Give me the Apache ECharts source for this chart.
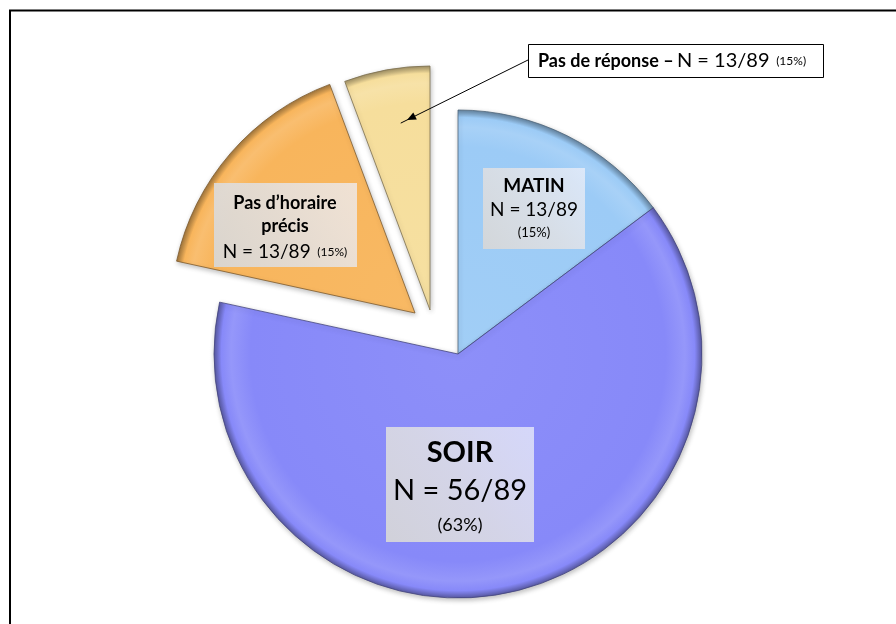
<!DOCTYPE html>
<html>
<head>
<meta charset="utf-8">
<script src="https://cdn.jsdelivr.net/npm/echarts@6/dist/echarts.min.js"></script>
<style>
  html, body { margin: 0; padding: 0; background: #fff; }
  #chart { width: 896px; height: 624px; }
</style>
</head>
<body>
<div id="chart"></div>
<script>
// donnees (angles des parts)
var categories = ['MATIN', 'SOIR', 'Pas d\u2019horaire précis', 'Pas de réponse'];
var values = [13, 56, 14, 5];
var titleLines = [['MATIN'], ['SOIR'], ['Pas d\u2019horaire', 'précis'], ['Pas de réponse \u2013']];
var countLabels = ['N = 13/89', 'N = 56/89', 'N = 13/89', 'N = 13/89'];
var percentLabels = ['(15%)', '(63%)', '(15%)', '(15%)'];
var baseColors = ['#9ccbf6', '#8789f9', '#f8b55c', '#f6de9c'];

var FONT = 'Lato, "Noto Sans", sans-serif';
var center = [458, 354];
var radius = 244;
// decalage des parts eclatees
var explode = [[0, 0], [0, 0], [-43, -41], [-28, -44]];
var groups = [[0, 1], [2], [3]];

function shade(hex, f) {
    var n = parseInt(hex.slice(1), 16);
    var c = [(n >> 16) & 255, (n >> 8) & 255, n & 255].map(function (v) {
        v = f < 0 ? v * (1 + f) : v + (255 - v) * f;
        return Math.round(v);
    });
    return 'rgb(' + c.join(',') + ')';
}

function sliceStyle(i, cx, cy) {
    var base = baseColors[i];
    return {
        color: {
            type: 'radial', x: cx, y: cy, r: radius, global: true,
            colorStops: [
                { offset: 0, color: shade(base, 0.05) },
                { offset: 0.85, color: base },
                { offset: 0.93, color: shade(base, 0.12) },
                { offset: 0.97, color: base },
                { offset: 1, color: shade(base, -0.35) }
            ]
        },
        borderColor: shade(base, -0.5),
        borderWidth: 0.8,
        shadowBlur: 5,
        shadowOffsetX: 1,
        shadowOffsetY: 2,
        shadowColor: 'rgba(0,0,0,0.25)'
    };
}

function buildSeries(members) {
    var off = explode[members[0]];
    var cx = center[0] + off[0], cy = center[1] + off[1];
    return {
        type: 'pie',
        center: [cx, cy],
        radius: radius,
        startAngle: 90,
        clockwise: true,
        silent: true,
        animation: false,
        avoidLabelOverlap: false,
        label: { show: false },
        labelLine: { show: false },
        data: values.map(function (v, i) {
            var on = members.indexOf(i) >= 0;
            return {
                name: categories[i],
                value: v,
                itemStyle: on ? sliceStyle(i, cx, cy) : { color: 'rgba(0,0,0,0)', borderWidth: 0 }
            };
        })
    };
}

// boites des etiquettes
var boxes = [
    { x: 483, y: 168, w: 102, h: 81, cx: 534, ys: [186, 210, 233], sizes: [19, 19, 13] },
    { x: 386, y: 427, w: 148, h: 115, cx: 460, ys: [453, 491, 525], sizes: [29, 29, 18] },
    { x: 214, y: 183, w: 143, h: 84, cx: 285, ys: [203, 226, 252], sizes: [18, 19, 12] }
];

var graphics = [{
    type: 'rect', silent: true, z: 100,
    shape: { x: 10, y: 10.5, width: 1000, height: 1000 },
    style: { fill: 'none', stroke: '#000', lineWidth: 2 }
}];

boxes.forEach(function (b, i) {
    graphics.push({
        type: 'rect', silent: true, z: 100,
        shape: { x: b.x, y: b.y, width: b.w, height: b.h },
        style: {
            fill: {
                type: 'linear', x: 0, y: 1, x2: 1, y2: 0,
                colorStops: [
                    { offset: 0, color: 'rgba(215,215,215,0.92)' },
                    { offset: 0.5, color: 'rgba(225,225,228,0.85)' },
                    { offset: 1, color: 'rgba(238,240,250,0.75)' }
                ]
            }
        }
    });
    var lines = titleLines[i];
    lines.forEach(function (t, k) {
        graphics.push({
            type: 'text', silent: true, z: 101,
            style: {
                text: t, x: b.cx, y: b.ys[k], align: 'center', verticalAlign: 'middle',
                font: 'bold ' + b.sizes[0] + 'px ' + FONT, fill: '#000'
            }
        });
    });
    if (lines.length === 1) {
        graphics.push({
            type: 'text', silent: true, z: 101,
            style: { text: countLabels[i], x: b.cx, y: b.ys[1], align: 'center', verticalAlign: 'middle',
                font: b.sizes[1] + 'px ' + FONT, fill: '#000' }
        });
        graphics.push({
            type: 'text', silent: true, z: 101,
            style: { text: percentLabels[i], x: b.cx, y: b.ys[2], align: 'center', verticalAlign: 'middle',
                font: b.sizes[2] + 'px ' + FONT, fill: '#000' }
        });
    } else {
        graphics.push({
            type: 'text', silent: true, z: 101,
            style: {
                text: '{n|' + countLabels[i] + '}  {p|' + percentLabels[i] + '}',
                x: b.cx, y: b.ys[2], align: 'center', verticalAlign: 'middle',
                rich: {
                    n: { font: b.sizes[1] + 'px ' + FONT, fill: '#000' },
                    p: { font: b.sizes[2] + 'px ' + FONT, fill: '#000' }
                }
            }
        });
    }
});

// etiquette exterieure "Pas de reponse" + fleche
graphics.push({
    type: 'rect', silent: true, z: 100,
    shape: { x: 528.5, y: 44.5, width: 295, height: 33 },
    style: { fill: '#fff', stroke: '#000', lineWidth: 1 }
});
graphics.push({
    type: 'text', silent: true, z: 101,
    style: {
        text: '{t|' + titleLines[3][0] + '} {n|' + countLabels[3] + '}  {p|' + percentLabels[3] + '}',
        x: 538, y: 61, align: 'left', verticalAlign: 'middle',
        rich: {
            t: { font: 'bold 18px ' + FONT, fill: '#000' },
            n: { font: '20px ' + FONT, fill: '#000' },
            p: { font: '12px ' + FONT, fill: '#000' }
        }
    }
});
var ax0 = 528, ay0 = 60, ax1 = 407, ay1 = 120;
var ang = Math.atan2(ay1 - ay0, ax1 - ax0);
graphics.push({
    type: 'line', silent: true, z: 100,
    shape: { x1: ax0, y1: ay0, x2: ax1 + 7 * Math.cos(ang), y2: ay1 + 7 * Math.sin(ang) },
    style: { stroke: '#000', lineWidth: 1 }
});
graphics.push({
    type: 'polygon', silent: true, z: 100,
    shape: { points: [
        [ax1, ay1],
        [ax1 - 9 * Math.cos(ang) + 4 * Math.sin(ang), ay1 - 9 * Math.sin(ang) - 4 * Math.cos(ang)],
        [ax1 - 9 * Math.cos(ang) - 4 * Math.sin(ang), ay1 - 9 * Math.sin(ang) + 4 * Math.cos(ang)]
    ] },
    style: { fill: '#000' }
});

var chart = echarts.init(document.getElementById('chart'));
chart.setOption({
    backgroundColor: '#fff',
    animation: false,
    series: groups.map(buildSeries),
    graphic: { elements: graphics }
});
</script>
</body>
</html>
